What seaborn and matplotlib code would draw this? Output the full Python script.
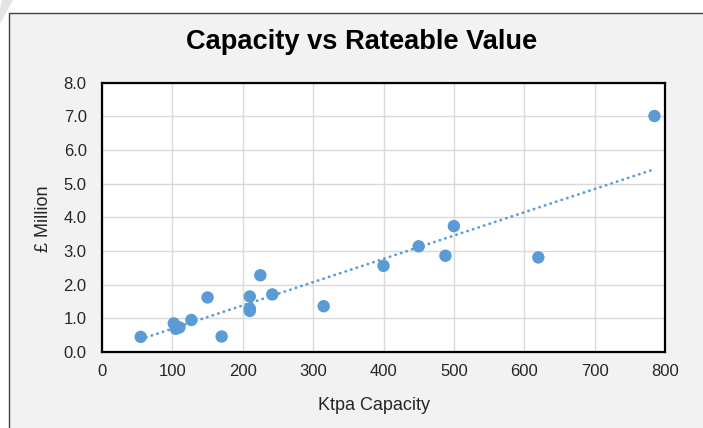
import numpy as np
import pandas as pd
import matplotlib
matplotlib.use("Agg")
import matplotlib.pyplot as plt
from matplotlib.patches import Rectangle, Polygon
import seaborn as sns

# Data
capacity_ktpa = [55, 102, 105, 110, 127, 150, 170, 210, 210, 210,
                 225, 242, 315, 400, 450, 488, 500, 620, 785]
rateable_value_m = [0.45, 0.85, 0.69, 0.73, 0.95, 1.62, 0.46, 1.65, 1.29, 1.22,
                    2.28, 1.71, 1.36, 2.56, 3.14, 2.86, 3.74, 2.81, 7.01]
x_ticks = [0, 100, 200, 300, 400, 500, 600, 700, 800]
y_ticks = [0.0, 1.0, 2.0, 3.0, 4.0, 5.0, 6.0, 7.0, 8.0]
title = "Capacity vs Rateable Value"
x_label = "Ktpa Capacity"
y_label = "£ Million"

df = pd.DataFrame({"capacity": capacity_ktpa, "value": rateable_value_m})

# Linear trendline with intercept fixed at zero (as in the original spreadsheet chart)
xs = np.asarray(capacity_ktpa, dtype=float)
ys = np.asarray(rateable_value_m, dtype=float)
slope = float(np.sum(xs * ys) / np.sum(xs * xs))
trend_x = np.array([xs.min(), xs.max()])
trend = pd.DataFrame({"capacity": trend_x, "value": slope * trend_x})

sns.set_theme(style="white")
plt.rcParams["font.family"] = ["Liberation Sans", "DejaVu Sans"]

W, H = 703, 428
fig = plt.figure(figsize=(W / 100, H / 100), dpi=100)
fig.patch.set_facecolor("white")

# decorative corner shading and outer chart frame
fig.patches.append(Polygon([(2 / W, 1), (13 / W, 1), (8 / W, 1 - 9 / H), (0, 1 - 24 / H), (0, 1 - 8 / H)],
                           closed=True, transform=fig.transFigure, facecolor="#e4e4e4",
                           edgecolor="none", zorder=-10))
fig.patches.append(Rectangle((8.5 / W, -0.05), 1.0, 1 - 12.5 / H + 0.05, transform=fig.transFigure,
                             facecolor="#f2f2f2", edgecolor="#404040", linewidth=1.0, zorder=-9))

left, right = 102 / W, 665 / W
bottom, top = 1 - 352 / H, 1 - 82.7 / H
ax = fig.add_axes([left, bottom, right - left, top - bottom])
ax.set_zorder(1)
ax.set_facecolor("white")

blue = "#5B9BD5"
sns.lineplot(data=trend, x="capacity", y="value", ax=ax, color=blue,
             linestyle=(0, (0.1, 2.0)), linewidth=2.0, dash_capstyle="round", zorder=2)
sns.scatterplot(data=df, x="capacity", y="value", ax=ax, color=blue, s=80,
                edgecolor="none", zorder=3)

ax.set_xlim(0, 800)
ax.set_ylim(0, 8)
ax.set_xticks(x_ticks)
ax.set_yticks(y_ticks)
ax.set_xticklabels([str(t) for t in x_ticks])
ax.set_yticklabels([f"{t:.1f}" for t in y_ticks])
ax.tick_params(axis="both", length=0, labelsize=12, labelcolor="#262626")
ax.tick_params(axis="x", pad=9)
ax.tick_params(axis="y", pad=11)
ax.grid(True, color="#d9d9d9", linewidth=1.0)
ax.set_axisbelow(True)
for sp in ax.spines.values():
    sp.set_visible(True)
    sp.set_color("black")
    sp.set_linewidth(1.6)
ax.set_xlabel("")
ax.set_ylabel("")

fig.text(362 / W, 1 - 42 / H, title, ha="center", va="center", fontsize=19.6,
         fontweight="bold", color="black", zorder=2)
fig.text(374 / W, 1 - 406 / H, x_label, ha="center", va="center", fontsize=13, color="#262626", zorder=2)
fig.text(43 / W, 1 - 219 / H, y_label, ha="center", va="center", fontsize=13,
         rotation=90, color="#262626", zorder=2)

fig.savefig("out.png", dpi=100)
